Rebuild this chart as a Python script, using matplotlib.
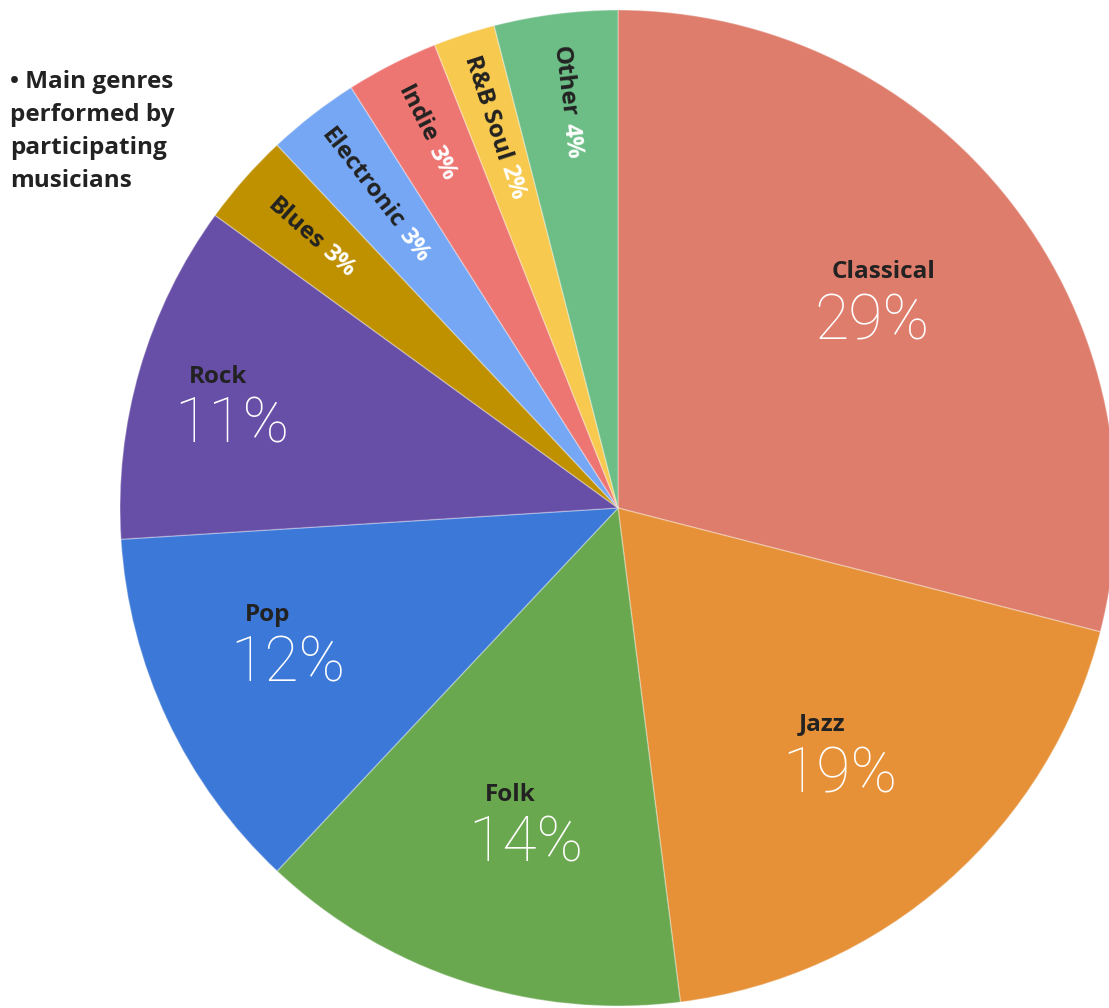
import matplotlib
matplotlib.use("Agg")
import matplotlib.pyplot as plt
import numpy as np

# ---- data ----
genres = ["Classical", "Jazz", "Folk", "Pop", "Rock", "Blues", "Electronic",
          "Indie", "R&B Soul", "Other"]
shares = [29, 19, 14, 12, 11, 3, 3, 3, 2, 4]
pct_labels = ["29%", "19%", "14%", "12%", "11%", "3%", "3%", "3%", "2%", "4%"]
title_text = "\u2022 Main genres\nperformed by\nparticipating\nmusicians"

# ---- style / layout ----
colors = ["#DE7D6C", "#E69138", "#6AA84F", "#3C78D8", "#674EA7", "#BF9000",
          "#76A7F4", "#EE7672", "#F7C94F", "#6DBE86"]
# radial fraction, angle offset (deg), name offset x, name offset y (px)
big = {"Classical": (0.637, -1.0, 12, 48), "Jazz": (0.690, -1.1, -18, 48),
       "Folk": (0.692, 2.4, -15, 47), "Pop": (0.730, -0.5, -20, 47),
       "Rock": (0.795, 3.4, -14, 45)}
small = {"Blues": 0.79, "Electronic": 0.71, "Indie": 0.82,
         "R&B Soul": 0.73, "Other": 0.785}
dark = "#222222"
bold_font = "Open Sans"
thin_font = "Roboto"

W, H = 1109, 1008
CX, CY, R = 618, 500, 498

fig = plt.figure(figsize=(W / 100, H / 100), dpi=100)
ax = fig.add_axes([0, 0, 1, 1])
wedges, _ = ax.pie(shares, colors=colors, startangle=90, counterclock=False,
                   center=(CX, CY), radius=R,
                   wedgeprops=dict(edgecolor=(1, 1, 1, 0.3), linewidth=1.0))
ax.set_xlim(0, W)
ax.set_ylim(0, H)
ax.set_aspect("equal")
ax.axis("off")

for w, g, p in zip(wedges, genres, pct_labels):
    mid_deg = (w.theta1 + w.theta2) / 2
    if g in big:
        frac, aoff, ndx, ndy = big[g]
        a = np.deg2rad(mid_deg + aoff)
        px = CX + frac * R * np.cos(a)
        py = CY + frac * R * np.sin(a)
        ax.text(px, py - 22, p, ha="center", va="baseline", color="white",
                fontsize=45, family=thin_font, fontweight="light")
        ax.text(px + ndx, py + ndy - 8, g, ha="center", va="baseline",
                color=dark, fontsize=17.5, family=bold_font, fontweight="bold")
    else:
        mid = np.deg2rad(mid_deg)
        frac = small[g]
        rot = mid_deg + 180
        if rot > 180:
            rot -= 360
        sx = CX + frac * R * np.cos(mid)
        sy = CY + frac * R * np.sin(mid)
        d = np.array([np.cos(np.deg2rad(rot)), np.sin(np.deg2rad(rot))])
        ax.text(sx - 3 * d[0], sy - 3 * d[1], g, ha="right", va="center",
                rotation=rot, rotation_mode="anchor", color=dark,
                fontsize=17.5, family=bold_font, fontweight="bold")
        ax.text(sx + 3 * d[0], sy + 3 * d[1], p, ha="left", va="center",
                rotation=rot, rotation_mode="anchor", color="white",
                fontsize=17.5, family=bold_font, fontweight="bold")

ax.text(10, H - 70, title_text, ha="left", va="top", color=dark,
        fontsize=17.5, family=bold_font, fontweight="bold", linespacing=1.5)

fig.savefig("out.png", dpi=100)
